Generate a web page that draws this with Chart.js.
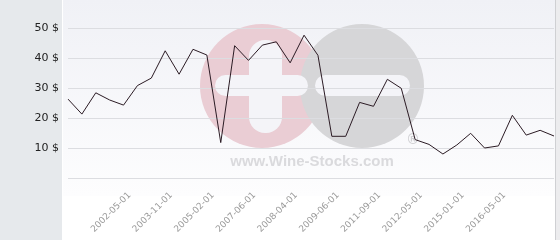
<!DOCTYPE html>
<html>
<head>
<meta charset="utf-8">
<script src="https://cdn.jsdelivr.net/npm/chart.js@4/dist/chart.umd.min.js"></script>
<style>
html,body{margin:0;padding:0;background:#fff;}
canvas{display:block;}
</style>
</head>
<body>
<canvas id="c" width="560" height="240"></canvas>
<script>
const categories = ['', '', '', '', '2002-05-01', '', '', '2003-11-01', '', '', '2005-02-01', '', '', '2007-06-01', '', '', '2008-04-01', '', '', '2009-06-01', '', '', '2011-09-01', '', '', '2012-05-01', '', '', '2015-01-01', '', '', '2016-05-01', '', '', '', ''];
const prices = [26.3, 21.3, 28.4, 26, 24.3, 30.8, 33.3, 42.4, 34.6, 42.9, 41, 11.8, 44.1, 39.2, 44.3, 45.4, 38.4, 47.6, 40.9, 13.9, 13.9, 25.2, 23.9, 32.9, 29.9, 12.8, 11.2, 8, 11, 14.9, 10, 10.7, 20.9, 14.3, 15.9, 14];
const yTickValues = [0, 10, 20, 30, 40, 50];
const currency = ' $';
const watermarkText = 'www.Wine-Stocks.com';

function rr(ctx, x, y, w, h, r) {
  ctx.beginPath();
  ctx.moveTo(x + r, y);
  ctx.lineTo(x + w - r, y);
  ctx.arc(x + w - r, y + r, r, -Math.PI / 2, 0);
  ctx.lineTo(x + w, y + h - r);
  ctx.arc(x + w - r, y + h - r, r, 0, Math.PI / 2);
  ctx.lineTo(x + r, y + h);
  ctx.arc(x + r, y + h - r, r, Math.PI / 2, Math.PI);
  ctx.lineTo(x, y + r);
  ctx.arc(x + r, y + r, r, Math.PI, Math.PI * 1.5);
  ctx.closePath();
  ctx.fill();
}

const bgPlugin = {
  id: 'bg',
  beforeDraw(chart) {
    const ctx = chart.ctx;
    const W = chart.width, H = chart.height;
    ctx.save();
    ctx.fillStyle = '#ffffff';
    ctx.fillRect(0, 0, W, H);
    ctx.fillStyle = '#e6e9ec';
    ctx.fillRect(0, 0, 62, H);
    const g = ctx.createLinearGradient(0, 0, 0, 196);
    g.addColorStop(0, '#f0f1f6');
    g.addColorStop(1, '#fdfdfe');
    ctx.fillStyle = g;
    ctx.fillRect(63, 0, 492, 196);
    ctx.fillStyle = '#cfd0d3';
    ctx.fillRect(555, 0, 1, H);
    ctx.fillStyle = '#ececee';
    ctx.fillRect(556, 0, 4, H);
    // watermark
    ctx.fillStyle = '#eacdd4';
    ctx.beginPath(); ctx.arc(262, 86, 62, 0, Math.PI * 2); ctx.fill();
    ctx.fillStyle = '#d6d6d8';
    ctx.beginPath(); ctx.arc(362, 86, 62, 0, Math.PI * 2); ctx.fill();
    ctx.fillStyle = '#f4f4f8';
    rr(ctx, 215, 75, 93, 21, 10.5);
    rr(ctx, 249, 40, 33, 93, 16);
    rr(ctx, 315, 75, 95, 21, 10.5);
    ctx.fillStyle = '#dadadd';
    ctx.font = 'bold 15px "Liberation Sans", Arial, sans-serif';
    ctx.textAlign = 'center';
    ctx.textBaseline = 'alphabetic';
    ctx.fillText(watermarkText, 312, 166);
    ctx.fillStyle = '#d0d0d3';
    ctx.font = 'bold 14px "Liberation Sans", Arial, sans-serif';
    ctx.fillText('\u00ae', 413, 144);
    ctx.restore();
  }
};

new Chart(document.getElementById('c'), {
  type: 'line',
  data: {
    labels: categories,
    datasets: [{
      data: prices,
      borderColor: '#2b1b24',
      borderWidth: 1,
      pointRadius: 0,
      tension: 0,
      fill: false
    }]
  },
  options: {
    responsive: false,
    animation: false,
    devicePixelRatio: 1,
    layout: { padding: { top: 13, right: 6, left: 0, bottom: 0 } },
    plugins: { legend: { display: false }, tooltip: { enabled: false } },
    scales: {
      x: {
        offset: false,
        grid: { display: false, drawTicks: false },
        border: { display: false },
        afterFit(s) { s.height = 62; s.paddingLeft = 0; s.paddingRight = 0; },
        ticks: {
          autoSkip: false,
          minRotation: 45,
          maxRotation: 45,
          padding: 12,
          labelOffset: 6,
          color: '#9a9a9a',
          font: { family: '"DejaVu Sans", sans-serif', size: 9 }
        }
      },
      y: {
        min: 0,
        max: 55,
        afterBuildTicks(s) { s.ticks = yTickValues.map(v => ({ value: v })); },
        afterFit(s) { s.width = 68; s.paddingTop = 0; s.paddingBottom = 0; },
        border: { display: false },
        grid: { color: '#dcdde1', lineWidth: 1, drawTicks: false },
        ticks: {
          padding: 9,
          color: '#222222',
          font: { family: '"DejaVu Sans", sans-serif', size: 11 },
          callback: v => v === 0 ? '' : v + currency
        }
      }
    }
  },
  plugins: [bgPlugin]
});
</script>
</body>
</html>
